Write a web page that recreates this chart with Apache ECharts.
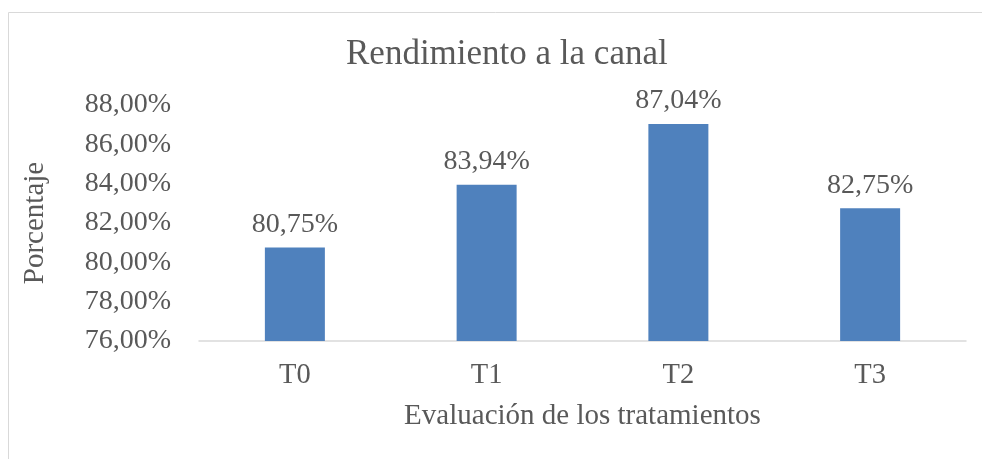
<!DOCTYPE html>
<html>
<head>
<meta charset="utf-8">
<script src="https://cdn.jsdelivr.net/npm/echarts@6/dist/echarts.min.js"></script>
<style>
  html, body { margin: 0; padding: 0; background: #fff; }
  #chart { width: 982px; height: 459px; }
</style>
</head>
<body>
<div id="chart"></div>
<script>
  // datos del gráfico
  var categorias = ['T0', 'T1', 'T2', 'T3'];
  var rendimiento = [80.75, 83.94, 87.04, 82.75];
  var ejeMin = 76;
  var ejeMax = 88;
  var ejePaso = 2;

  var fuente = '"Liberation Serif", "Times New Roman", serif';
  var gris = '#595959';

  function pct(v) {
    return v.toFixed(2).replace('.', ',') + '%';
  }

  var myChart = echarts.init(document.getElementById('chart'));
  myChart.setOption({
    animation: false,
    textStyle: { fontFamily: fuente },
    title: {
      text: 'Rendimiento a la canal',
      left: 341,
      top: 32,
      textStyle: { fontFamily: fuente, fontSize: 35, fontWeight: 'normal', color: gris }
    },
    graphic: [{
      type: 'rect',
      shape: { x: 8.5, y: 12.5, width: 1000, height: 500 },
      style: { fill: 'none', stroke: '#d9d9d9', lineWidth: 1 },
      silent: true
    }],
    grid: {
      left: 199,
      right: 16,
      top: 105,
      bottom: 118
    },
    xAxis: {
      type: 'category',
      data: categorias,
      name: 'Evaluación de los tratamientos',
      nameLocation: 'middle',
      nameGap: 61,
      nameTextStyle: { fontFamily: fuente, fontSize: 29, color: gris },
      axisLine: { lineStyle: { color: '#d9d9d9', width: 1.5 } },
      axisTick: { show: false },
      axisLabel: { fontFamily: fuente, fontSize: 28.5, color: gris, margin: 20 }
    },
    yAxis: {
      type: 'value',
      min: ejeMin,
      max: ejeMax,
      interval: ejePaso,
      name: 'Porcentaje',
      nameLocation: 'middle',
      nameGap: 149,
      nameTextStyle: { fontFamily: fuente, fontSize: 29, color: gris },
      axisLine: { show: false },
      axisTick: { show: false },
      splitLine: { show: false },
      axisLabel: {
        fontFamily: fuente, fontSize: 28, color: gris, margin: 28,
        formatter: function (v) { return pct(v); }
      }
    },
    series: [{
      type: 'bar',
      data: rendimiento,
      barWidth: 60,
      itemStyle: { color: '#4f81bd' },
      label: {
        show: true,
        position: 'top',
        distance: 9,
        fontFamily: fuente,
        fontSize: 28,
        color: gris,
        formatter: function (p) { return pct(p.value); }
      }
    }]
  });
</script>
</body>
</html>
